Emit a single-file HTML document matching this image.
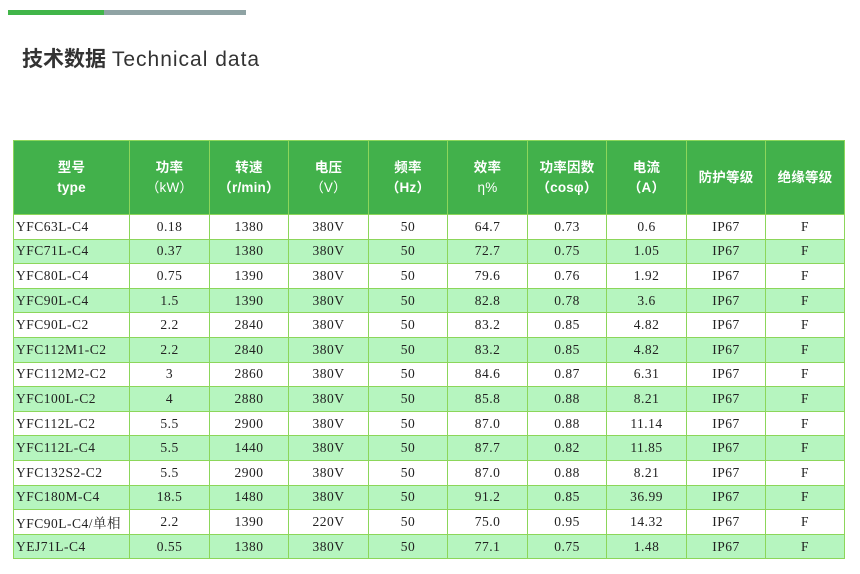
<!DOCTYPE html>
<html><head><meta charset="utf-8"><style>
body{margin:0;background:#fff;width:860px;height:574px;position:relative;overflow:hidden;font-family:"Liberation Sans","Noto Sans CJK SC",sans-serif}
.g{position:absolute;left:8px;top:10px;width:96px;height:5px;background:#41b549}
.s{position:absolute;left:104px;top:10px;width:142px;height:5px;background:#8fa3a4}
h1{position:absolute;left:22px;top:43px;margin:0;font-size:21px;font-weight:normal;color:#333;white-space:nowrap}
h1 b{font-weight:bold;letter-spacing:0}
h1 span{letter-spacing:1px}
table{position:absolute;left:13px;top:140px;border-collapse:collapse;table-layout:fixed;width:831px}
td{border:1px solid #8cd65a;text-align:center;font-family:"Liberation Serif","Noto Serif CJK SC",serif;font-size:13.5px;letter-spacing:0.5px;color:#222;height:23.6px;padding:0;white-space:nowrap}
tr.h td{background:#42b14b;color:#fff;height:73px;font-family:"Liberation Sans","Noto Sans CJK SC",sans-serif;font-weight:bold;font-size:13.5px;line-height:20px;letter-spacing:0.2px}
tr.h td span{font-weight:normal}
tr:nth-child(odd):not(.h) td{background:#b6f5bf}
td:first-child{text-align:left;padding-left:2px}
tr.h td:first-child{text-align:center;padding:0}
</style></head><body>
<div class="g"></div><div class="s"></div>
<h1><b>技术数据</b> <span>Technical data</span></h1>
<table>
<colgroup><col style="width:116px"><col style="width:80px"><col style="width:79px"><col style="width:80px"><col style="width:79px"><col style="width:80px"><col style="width:79px"><col style="width:80px"><col style="width:79px"><col style="width:79px"></colgroup>
<tr class="h"><td>型号<br>type</td><td>功率<br><span>（kW）</span></td><td>转速<br>（r/min）</td><td>电压<br><span>（V）</span></td><td>频率<br>（Hz）</td><td>效率<br><span>η%</span></td><td>功率因数<br>（cosφ）</td><td>电流<br>（A）</td><td>防护等级</td><td>绝缘等级</td></tr>
<tr><td>YFC63L-C4</td><td>0.18</td><td>1380</td><td>380V</td><td>50</td><td>64.7</td><td>0.73</td><td>0.6</td><td>IP67</td><td>F</td></tr>
<tr><td>YFC71L-C4</td><td>0.37</td><td>1380</td><td>380V</td><td>50</td><td>72.7</td><td>0.75</td><td>1.05</td><td>IP67</td><td>F</td></tr>
<tr><td>YFC80L-C4</td><td>0.75</td><td>1390</td><td>380V</td><td>50</td><td>79.6</td><td>0.76</td><td>1.92</td><td>IP67</td><td>F</td></tr>
<tr><td>YFC90L-C4</td><td>1.5</td><td>1390</td><td>380V</td><td>50</td><td>82.8</td><td>0.78</td><td>3.6</td><td>IP67</td><td>F</td></tr>
<tr><td>YFC90L-C2</td><td>2.2</td><td>2840</td><td>380V</td><td>50</td><td>83.2</td><td>0.85</td><td>4.82</td><td>IP67</td><td>F</td></tr>
<tr><td>YFC112M1-C2</td><td>2.2</td><td>2840</td><td>380V</td><td>50</td><td>83.2</td><td>0.85</td><td>4.82</td><td>IP67</td><td>F</td></tr>
<tr><td>YFC112M2-C2</td><td>3</td><td>2860</td><td>380V</td><td>50</td><td>84.6</td><td>0.87</td><td>6.31</td><td>IP67</td><td>F</td></tr>
<tr><td>YFC100L-C2</td><td>4</td><td>2880</td><td>380V</td><td>50</td><td>85.8</td><td>0.88</td><td>8.21</td><td>IP67</td><td>F</td></tr>
<tr><td>YFC112L-C2</td><td>5.5</td><td>2900</td><td>380V</td><td>50</td><td>87.0</td><td>0.88</td><td>11.14</td><td>IP67</td><td>F</td></tr>
<tr><td>YFC112L-C4</td><td>5.5</td><td>1440</td><td>380V</td><td>50</td><td>87.7</td><td>0.82</td><td>11.85</td><td>IP67</td><td>F</td></tr>
<tr><td>YFC132S2-C2</td><td>5.5</td><td>2900</td><td>380V</td><td>50</td><td>87.0</td><td>0.88</td><td>8.21</td><td>IP67</td><td>F</td></tr>
<tr><td>YFC180M-C4</td><td>18.5</td><td>1480</td><td>380V</td><td>50</td><td>91.2</td><td>0.85</td><td>36.99</td><td>IP67</td><td>F</td></tr>
<tr><td>YFC90L-C4/单相</td><td>2.2</td><td>1390</td><td>220V</td><td>50</td><td>75.0</td><td>0.95</td><td>14.32</td><td>IP67</td><td>F</td></tr>
<tr><td>YEJ71L-C4</td><td>0.55</td><td>1380</td><td>380V</td><td>50</td><td>77.1</td><td>0.75</td><td>1.48</td><td>IP67</td><td>F</td></tr>
</table>
</body></html>
